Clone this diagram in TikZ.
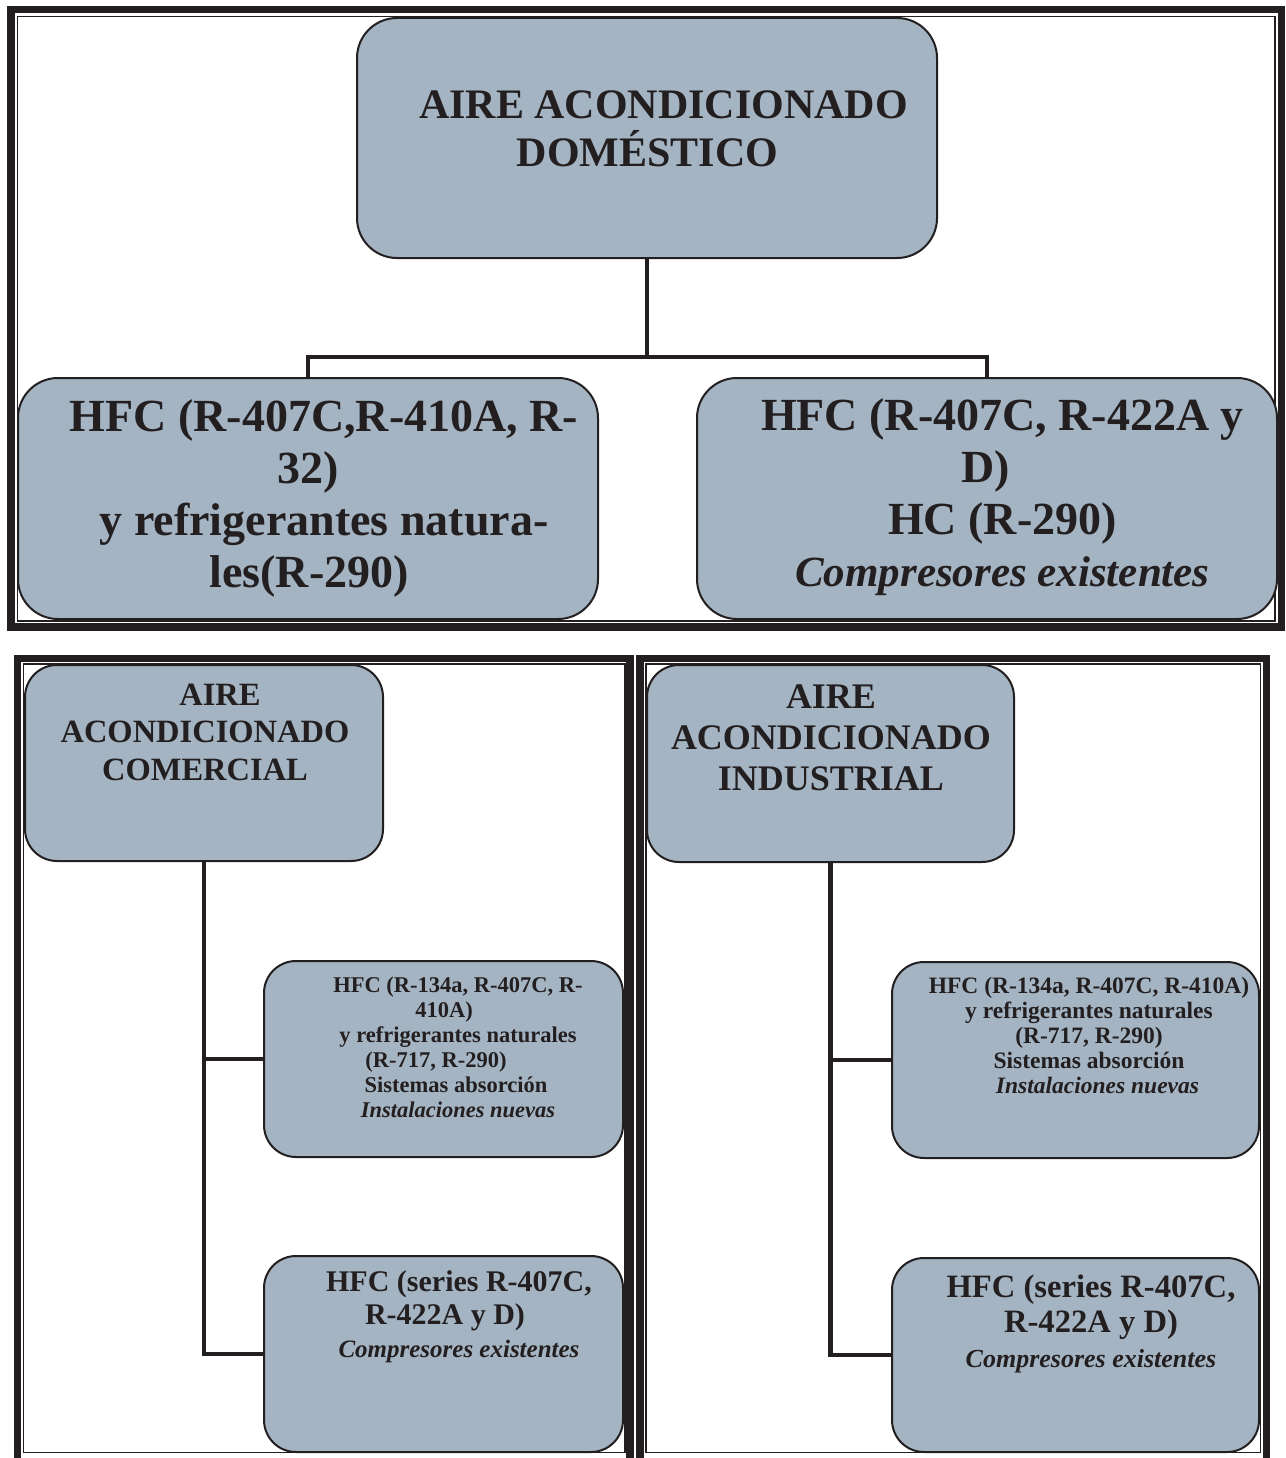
\documentclass[tikz,border=0pt]{standalone}
\usepackage{fontspec}
\setmainfont{Liberation Serif}
\definecolor{boxfill}{RGB}{164,180,194}
\definecolor{ink}{RGB}{35,31,32}
\newcommand{\padr}[1]{\rule{#1}{0pt}}
\tikzset{
  box/.style={draw=ink, line width=2pt, fill=boxfill, rounded corners=#1, inner sep=0pt},
  conn/.style={draw=ink, line width=4.5pt},
  txt/.style={text=ink, align=center, inner sep=0pt},
  thickframe/.style={draw=ink, line width=7.5pt},
  thinframe/.style={draw=ink, line width=1.6pt}
}
\begin{document}
\begin{tikzpicture}[x=1pt,y=-1pt]
\useasboundingbox (0,0) rectangle (1285,1458);
% frames
\draw[thickframe] (11,9.5) rectangle (1281.5,627);
\draw[thinframe] (17.5,16.5) rectangle (1275,621);
\draw[thickframe] (17.5,658.5) rectangle (630,1461.5);
\draw[thinframe] (23.5,664) rectangle (625,1452.5);
\draw[thickframe] (640,658.5) rectangle (1266.5,1461.5);
\draw[thinframe] (646,664) rectangle (1260.5,1452.5);
% boxes
\node[box=40pt, minimum width=580pt, minimum height=240pt] (top) at (647,138) {};
\node[box=40pt, minimum width=580pt, minimum height=241pt] (L) at (308,498.5) {};
\node[box=40pt, minimum width=580pt, minimum height=241pt] (R) at (987,498.5) {};
\node[box=32pt, minimum width=358pt, minimum height=196pt] (com1) at (204,763) {};
\node[box=32pt, minimum width=359pt, minimum height=196pt] (com2) at (443.5,1059) {};
\node[box=32pt, minimum width=359pt, minimum height=196pt] (com3) at (443.5,1354) {};
\node[box=32pt, minimum width=367pt, minimum height=197pt] (ind1) at (830.5,763.5) {};
\node[box=32pt, minimum width=367pt, minimum height=196pt] (ind2) at (1075.5,1060) {};
\node[box=32pt, minimum width=367pt, minimum height=194pt] (ind3) at (1075.5,1355) {};
% connectors
\draw[conn] (top.south) -- ++(0,98) coordinate (j);
\draw[conn] (L.north) |- (j) -| (R.north);
\draw[conn] (com1.south) |- (com3.west);
\draw[conn] (com1.south) |- (com2.west);
\draw[conn] (ind1.south) |- (ind3.west);
\draw[conn] (ind1.south) |- (ind2.west);
% texts
\node[txt, font=\bfseries\fontsize{42}{48}\selectfont] (topT) at (663.5,128.5)
  {AIRE ACONDICIONADO\\DOMÉSTICO\padr{32pt}};
\node[txt, font=\bfseries\fontsize{46}{52}\selectfont] (LT) at (324,498.5)
  {HFC (R-407C,R-410A, R-\\32)\padr{32pt}\\y refrigerantes natura-\\les(R-290)\padr{30pt}};
\node[txt, font=\bfseries\fontsize{46}{52}\selectfont] (RT) at (1002.5,497.5)
  {HFC (R-407C, R-422A y\\D)\padr{33pt}\\HC (R-290)\\{\fontsize{43}{52}\selectfont\itshape Compresores existentes}};
\node[txt, font=\bfseries\fontsize{32.5}{37.5}\selectfont] (com1T) at (205,732)
  {\padr{30pt}AIRE\\ACONDICIONADO\\COMERCIAL};
\node[txt, font=\bfseries\fontsize{36}{41}\selectfont] (ind1T) at (831,738)
  {AIRE\\ACONDICIONADO\\INDUSTRIAL};
\node[txt, font=\bfseries\fontsize{22.5}{25}\selectfont] (com2T) at (458,1047.5)
  {HFC (R-134a, R-407C, R-\\410A)\padr{28pt}\\y refrigerantes naturales\\(R-717, R-290)\padr{44pt}\\Sistemas absorción\padr{4pt}\\{\itshape Instalaciones nuevas}};
\node[txt, font=\bfseries\fontsize{23.5}{25}\selectfont] (ind2T) at (1089,1035.5)
  {HFC (R-134a, R-407C, R-410A)\\y refrigerantes naturales\\(R-717, R-290)\\Sistemas absorción\\\padr{17pt}{\itshape Instalaciones nuevas}};
\node[txt, font=\bfseries\fontsize{30}{33}\selectfont] (com3T) at (459,1317)
  {HFC (series R-407C,\\R-422A y D)\padr{28pt}\\{\fontsize{25}{31}\selectfont\itshape Compresores existentes}};
\node[txt, font=\bfseries\fontsize{32.6}{35}\selectfont] (ind3T) at (1091,1324)
  {HFC (series R-407C,\\R-422A y D)\\{\fontsize{26}{35}\selectfont\itshape Compresores existentes}};
\end{tikzpicture}
\end{document}
